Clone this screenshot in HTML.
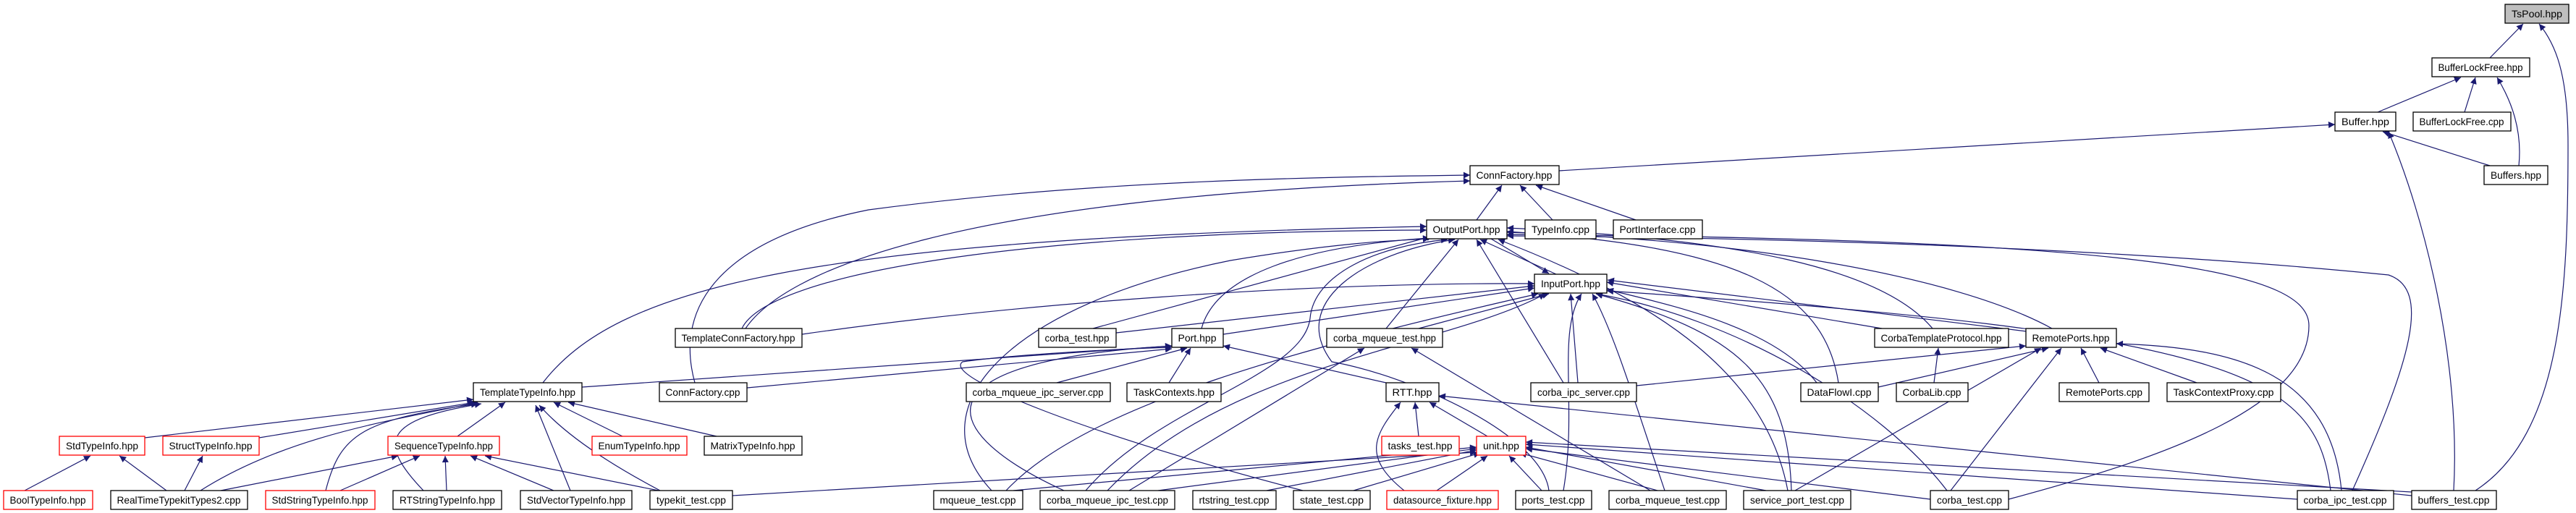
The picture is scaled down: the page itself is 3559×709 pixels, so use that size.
<!DOCTYPE html>
<html><head><meta charset="utf-8"><style>
html,body{margin:0;padding:0;background:#fff;}
svg{display:block;}
text{font-family:"Liberation Sans",sans-serif;font-size:14px;fill:#000;}
</style></head><body>
<svg width="3559" height="709" viewBox="0 0 3559 709" xmlns="http://www.w3.org/2000/svg">
<defs>
<marker id="a" viewBox="0 0 10 10" refX="10" refY="5" markerWidth="11" markerHeight="9" markerUnits="userSpaceOnUse" orient="auto"><path d="M0,0 L10,5 L0,10 z" fill="#191970"/></marker>
</defs>
<g fill="none" stroke="#191970" stroke-width="1.2" marker-end="url(#a)">
<path d="M3440,80 L3486,33"/>
<path d="M3420,678 C3540,600 3548,400 3548,200 C3548,100 3530,60 3508,33"/>
<path d="M3285,155 L3400,107"/>
<path d="M3405,155 L3420,107"/>
<path d="M3480,229 C3485,180 3470,140 3450,107"/>
<path d="M2154,236 L3226,172"/>
<path d="M3440,229 L3292,182"/>
<path d="M3390,678 C3400,500 3350,300 3300,182"/>
<path d="M2040,304 L2075,256"/>
<path d="M2145,304 L2100,256"/>
<path d="M2260,304 L2122,256"/>
<path d="M1030,454 C1080,380 1300,270 2031,250"/>
<path d="M960,529 C930,420 1000,330 1200,290 C1500,250 1800,245 2031,242"/>
<path d="M2150,379 L2045,331"/>
<path d="M2060,330 L2140,378"/>
<path d="M1025,454 C1060,380 1400,320 1971,318"/>
<path d="M750,529 C850,400 1100,330 1971,313"/>
<path d="M804,535 L1619,478"/>
<path d="M1032,536 L1619,482"/>
<path d="M1108,462 C1400,420 1800,390 2120,392"/>
<path d="M1510,454 L1980,326"/>
<path d="M1542,460 L2120,395"/>
<path d="M1660,454 C1680,380 1800,340 1975,329"/>
<path d="M1690,462 L2120,398"/>
<path d="M1915,454 L2015,331"/>
<path d="M1960,454 L2140,406"/>
<path d="M1370,678 C1260,560 1400,420 1700,360 C1850,335 1930,332 1975,330"/>
<path d="M1390,678 C1500,560 1800,480 2125,406"/>
<path d="M1500,678 C1600,560 1800,520 1810,440 C1815,380 1900,340 2000,331"/>
<path d="M1530,678 C1700,500 2000,480 2135,406"/>
<path d="M1560,678 L1885,481"/>
<path d="M1600,678 L2040,620"/>
<path d="M1470,678 C1300,600 1250,500 1619,478"/>
<path d="M1800,678 C1500,600 1300,520 1330,500 C1400,490 1550,482 1619,480"/>
<path d="M2160,529 L2040,331"/>
<path d="M2180,529 L2170,406"/>
<path d="M2160,678 C2180,560 2150,460 2185,406"/>
<path d="M2140,678 C2130,600 1950,520 1840,500 C1780,420 1880,350 2010,331"/>
<path d="M2280,678 L1950,481"/>
<path d="M2300,678 C2260,560 2230,460 2200,406"/>
<path d="M2470,678 C2440,520 2300,420 2070,331"/>
<path d="M2475,678 C2470,520 2400,460 2205,406"/>
<path d="M2480,678 L2820,481"/>
<path d="M2540,529 C2520,400 2400,340 2082,320"/>
<path d="M2510,529 C2450,450 2300,420 2220,400"/>
<path d="M2595,535 L2830,481"/>
<path d="M2670,454 C2600,370 2400,330 2082,315"/>
<path d="M2600,454 L2220,390"/>
<path d="M2835,454 C2700,380 2400,330 2082,321"/>
<path d="M2800,458 L2221,387"/>
<path d="M2775,690 C3000,630 3190,560 3190,450 C3190,380 3000,330 2082,324"/>
<path d="M3250,678 C3330,500 3360,400 3300,380 C3100,360 2700,330 2082,326"/>
<path d="M2695,678 L2848,481"/>
<path d="M2690,678 C2600,560 2400,440 2205,406"/>
<path d="M3235,678 C3220,520 3100,480 2924,475"/>
<path d="M3220,678 C3200,520 3100,460 2220,402"/>
<path d="M2900,529 L2875,481"/>
<path d="M3035,529 L2902,481"/>
<path d="M2672,529 L2678,481"/>
<path d="M2261,533 L2799,478"/>
<path d="M1460,529 L1640,481"/>
<path d="M1615,529 L1645,481"/>
<path d="M1915,529 L1690,478"/>
<path d="M200,605 L654,552"/>
<path d="M358,605 L656,556"/>
<path d="M632,603 L698,556"/>
<path d="M860,603 L765,556"/>
<path d="M990,603 L785,556"/>
<path d="M277,678 C400,600 550,580 660,556"/>
<path d="M450,678 C470,600 500,580 660,558"/>
<path d="M585,678 C520,610 530,580 665,558"/>
<path d="M788,678 L740,560"/>
<path d="M912,678 C840,640 780,600 745,560"/>
<path d="M34,678 L125,630"/>
<path d="M230,678 L165,630"/>
<path d="M255,678 L280,630"/>
<path d="M305,678 L550,630"/>
<path d="M470,678 L580,630"/>
<path d="M617,678 L615,630"/>
<path d="M765,678 L650,630"/>
<path d="M910,678 L670,630"/>
<path d="M1012,685 L2040,625"/>
<path d="M1960,603 L1955,556"/>
<path d="M2055,603 L1975,556"/>
<path d="M1940,678 C1880,630 1900,600 1935,556"/>
<path d="M3332,685 L1988,547"/>
<path d="M1400,678 L2040,618"/>
<path d="M1750,678 L2040,622"/>
<path d="M1870,678 L2045,626"/>
<path d="M1985,678 L2055,630"/>
<path d="M2130,678 L2085,630"/>
<path d="M2290,678 L2100,626"/>
<path d="M2440,678 L2108,618"/>
<path d="M2667,690 L2108,620"/>
<path d="M3174,690 L2108,614"/>
<path d="M3332,680 L2108,611"/>
</g>
<g stroke-width="1.3">
<!-- nodes: rect + text -->
<rect x="3461" y="6" width="88" height="26" fill="#bfbfbf" stroke="#000"/><text x="3505" y="24" text-anchor="middle" textLength="70" lengthAdjust="spacingAndGlyphs">TsPool.hpp</text>
<rect x="3360" y="80" width="135" height="26" fill="#fff" stroke="#000"/><text x="3427" y="98" text-anchor="middle" textLength="117" lengthAdjust="spacingAndGlyphs">BufferLockFree.hpp</text>
<rect x="3226" y="155" width="84" height="26" fill="#fff" stroke="#000"/><text x="3268" y="173" text-anchor="middle" textLength="66" lengthAdjust="spacingAndGlyphs">Buffer.hpp</text>
<rect x="3334" y="155" width="135" height="26" fill="#fff" stroke="#000"/><text x="3401" y="173" text-anchor="middle" textLength="117" lengthAdjust="spacingAndGlyphs">BufferLockFree.cpp</text>
<rect x="2031" y="229" width="123" height="26" fill="#fff" stroke="#000"/><text x="2092" y="247" text-anchor="middle" textLength="105" lengthAdjust="spacingAndGlyphs">ConnFactory.hpp</text>
<rect x="3432" y="229" width="88" height="26" fill="#fff" stroke="#000"/><text x="3476" y="247" text-anchor="middle" textLength="70" lengthAdjust="spacingAndGlyphs">Buffers.hpp</text>
<rect x="1971" y="304" width="111" height="26" fill="#fff" stroke="#000"/><text x="2026" y="322" text-anchor="middle" textLength="93" lengthAdjust="spacingAndGlyphs">OutputPort.hpp</text>
<rect x="2107" y="304" width="98" height="26" fill="#fff" stroke="#000"/><text x="2156" y="322" text-anchor="middle" textLength="80" lengthAdjust="spacingAndGlyphs">TypeInfo.cpp</text>
<rect x="2229" y="304" width="123" height="26" fill="#fff" stroke="#000"/><text x="2290" y="322" text-anchor="middle" textLength="105" lengthAdjust="spacingAndGlyphs">PortInterface.cpp</text>
<rect x="2120" y="379" width="100" height="26" fill="#fff" stroke="#000"/><text x="2170" y="397" text-anchor="middle" textLength="82" lengthAdjust="spacingAndGlyphs">InputPort.hpp</text>
<rect x="933" y="454" width="175" height="26" fill="#fff" stroke="#000"/><text x="1020" y="472" text-anchor="middle" textLength="157" lengthAdjust="spacingAndGlyphs">TemplateConnFactory.hpp</text>
<rect x="1435" y="454" width="107" height="26" fill="#fff" stroke="#000"/><text x="1488" y="472" text-anchor="middle" textLength="89" lengthAdjust="spacingAndGlyphs">corba_test.hpp</text>
<rect x="1619" y="454" width="71" height="26" fill="#fff" stroke="#000"/><text x="1654" y="472" text-anchor="middle" textLength="53" lengthAdjust="spacingAndGlyphs">Port.hpp</text>
<rect x="1833" y="454" width="160" height="26" fill="#fff" stroke="#000"/><text x="1913" y="472" text-anchor="middle" textLength="142" lengthAdjust="spacingAndGlyphs">corba_mqueue_test.hpp</text>
<rect x="2590" y="454" width="185" height="26" fill="#fff" stroke="#000"/><text x="2682" y="472" text-anchor="middle" textLength="167" lengthAdjust="spacingAndGlyphs">CorbaTemplateProtocol.hpp</text>
<rect x="2799" y="454" width="125" height="26" fill="#fff" stroke="#000"/><text x="2861" y="472" text-anchor="middle" textLength="107" lengthAdjust="spacingAndGlyphs">RemotePorts.hpp</text>
<rect x="654" y="529" width="150" height="26" fill="#fff" stroke="#000"/><text x="729" y="547" text-anchor="middle" textLength="132" lengthAdjust="spacingAndGlyphs">TemplateTypeInfo.hpp</text>
<rect x="911" y="529" width="121" height="26" fill="#fff" stroke="#000"/><text x="971" y="547" text-anchor="middle" textLength="103" lengthAdjust="spacingAndGlyphs">ConnFactory.cpp</text>
<rect x="1335" y="529" width="199" height="26" fill="#fff" stroke="#000"/><text x="1434" y="547" text-anchor="middle" textLength="181" lengthAdjust="spacingAndGlyphs">corba_mqueue_ipc_server.cpp</text>
<rect x="1557" y="529" width="130" height="26" fill="#fff" stroke="#000"/><text x="1622" y="547" text-anchor="middle" textLength="112" lengthAdjust="spacingAndGlyphs">TaskContexts.hpp</text>
<rect x="1915" y="529" width="73" height="26" fill="#fff" stroke="#000"/><text x="1951" y="547" text-anchor="middle" textLength="55" lengthAdjust="spacingAndGlyphs">RTT.hpp</text>
<rect x="2115" y="529" width="146" height="26" fill="#fff" stroke="#000"/><text x="2188" y="547" text-anchor="middle" textLength="128" lengthAdjust="spacingAndGlyphs">corba_ipc_server.cpp</text>
<rect x="2488" y="529" width="107" height="26" fill="#fff" stroke="#000"/><text x="2541" y="547" text-anchor="middle" textLength="89" lengthAdjust="spacingAndGlyphs">DataFlowI.cpp</text>
<rect x="2620" y="529" width="99" height="26" fill="#fff" stroke="#000"/><text x="2669" y="547" text-anchor="middle" textLength="81" lengthAdjust="spacingAndGlyphs">CorbaLib.cpp</text>
<rect x="2845" y="529" width="124" height="26" fill="#fff" stroke="#000"/><text x="2907" y="547" text-anchor="middle" textLength="106" lengthAdjust="spacingAndGlyphs">RemotePorts.cpp</text>
<rect x="2994" y="529" width="157" height="26" fill="#fff" stroke="#000"/><text x="3072" y="547" text-anchor="middle" textLength="139" lengthAdjust="spacingAndGlyphs">TaskContextProxy.cpp</text>
<rect x="82" y="603" width="118" height="26" fill="#fff" stroke="#f00"/><text x="141" y="621" text-anchor="middle" textLength="100" lengthAdjust="spacingAndGlyphs">StdTypeInfo.hpp</text>
<rect x="225" y="603" width="133" height="26" fill="#fff" stroke="#f00"/><text x="291" y="621" text-anchor="middle" textLength="115" lengthAdjust="spacingAndGlyphs">StructTypeInfo.hpp</text>
<rect x="536" y="603" width="154" height="26" fill="#fff" stroke="#f00"/><text x="613" y="621" text-anchor="middle" textLength="136" lengthAdjust="spacingAndGlyphs">SequenceTypeInfo.hpp</text>
<rect x="818" y="603" width="131" height="26" fill="#fff" stroke="#f00"/><text x="883" y="621" text-anchor="middle" textLength="113" lengthAdjust="spacingAndGlyphs">EnumTypeInfo.hpp</text>
<rect x="973" y="603" width="135" height="26" fill="#fff" stroke="#000"/><text x="1040" y="621" text-anchor="middle" textLength="117" lengthAdjust="spacingAndGlyphs">MatrixTypeInfo.hpp</text>
<rect x="1909" y="603" width="107" height="26" fill="#fff" stroke="#f00"/><text x="1962" y="621" text-anchor="middle" textLength="89" lengthAdjust="spacingAndGlyphs">tasks_test.hpp</text>
<rect x="2040" y="603" width="68" height="26" fill="#fff" stroke="#f00"/><text x="2074" y="621" text-anchor="middle" textLength="50" lengthAdjust="spacingAndGlyphs">unit.hpp</text>
<rect x="5" y="678" width="123" height="26" fill="#fff" stroke="#f00"/><text x="66" y="696" text-anchor="middle" textLength="105" lengthAdjust="spacingAndGlyphs">BoolTypeInfo.hpp</text>
<rect x="153" y="678" width="189" height="26" fill="#fff" stroke="#000"/><text x="247" y="696" text-anchor="middle" textLength="171" lengthAdjust="spacingAndGlyphs">RealTimeTypekitTypes2.cpp</text>
<rect x="367" y="678" width="151" height="26" fill="#fff" stroke="#f00"/><text x="442" y="696" text-anchor="middle" textLength="133" lengthAdjust="spacingAndGlyphs">StdStringTypeInfo.hpp</text>
<rect x="543" y="678" width="150" height="26" fill="#fff" stroke="#000"/><text x="618" y="696" text-anchor="middle" textLength="132" lengthAdjust="spacingAndGlyphs">RTStringTypeInfo.hpp</text>
<rect x="719" y="678" width="154" height="26" fill="#fff" stroke="#000"/><text x="796" y="696" text-anchor="middle" textLength="136" lengthAdjust="spacingAndGlyphs">StdVectorTypeInfo.hpp</text>
<rect x="898" y="678" width="114" height="26" fill="#fff" stroke="#000"/><text x="955" y="696" text-anchor="middle" textLength="96" lengthAdjust="spacingAndGlyphs">typekit_test.cpp</text>
<rect x="1290" y="678" width="123" height="26" fill="#fff" stroke="#000"/><text x="1351" y="696" text-anchor="middle" textLength="105" lengthAdjust="spacingAndGlyphs">mqueue_test.cpp</text>
<rect x="1437" y="678" width="186" height="26" fill="#fff" stroke="#000"/><text x="1530" y="696" text-anchor="middle" textLength="168" lengthAdjust="spacingAndGlyphs">corba_mqueue_ipc_test.cpp</text>
<rect x="1648" y="678" width="115" height="26" fill="#fff" stroke="#000"/><text x="1705" y="696" text-anchor="middle" textLength="97" lengthAdjust="spacingAndGlyphs">rtstring_test.cpp</text>
<rect x="1787" y="678" width="106" height="26" fill="#fff" stroke="#000"/><text x="1840" y="696" text-anchor="middle" textLength="88" lengthAdjust="spacingAndGlyphs">state_test.cpp</text>
<rect x="1916" y="678" width="154" height="26" fill="#fff" stroke="#f00"/><text x="1993" y="696" text-anchor="middle" textLength="136" lengthAdjust="spacingAndGlyphs">datasource_fixture.hpp</text>
<rect x="2094" y="678" width="105" height="26" fill="#fff" stroke="#000"/><text x="2146" y="696" text-anchor="middle" textLength="87" lengthAdjust="spacingAndGlyphs">ports_test.cpp</text>
<rect x="2223" y="678" width="162" height="26" fill="#fff" stroke="#000"/><text x="2304" y="696" text-anchor="middle" textLength="144" lengthAdjust="spacingAndGlyphs">corba_mqueue_test.cpp</text>
<rect x="2409" y="678" width="148" height="26" fill="#fff" stroke="#000"/><text x="2483" y="696" text-anchor="middle" textLength="130" lengthAdjust="spacingAndGlyphs">service_port_test.cpp</text>
<rect x="2667" y="678" width="108" height="26" fill="#fff" stroke="#000"/><text x="2721" y="696" text-anchor="middle" textLength="90" lengthAdjust="spacingAndGlyphs">corba_test.cpp</text>
<rect x="3174" y="678" width="133" height="26" fill="#fff" stroke="#000"/><text x="3240" y="696" text-anchor="middle" textLength="115" lengthAdjust="spacingAndGlyphs">corba_ipc_test.cpp</text>
<rect x="3332" y="678" width="117" height="26" fill="#fff" stroke="#000"/><text x="3390" y="696" text-anchor="middle" textLength="99" lengthAdjust="spacingAndGlyphs">buffers_test.cpp</text>
</g>
</svg>
</body></html>
